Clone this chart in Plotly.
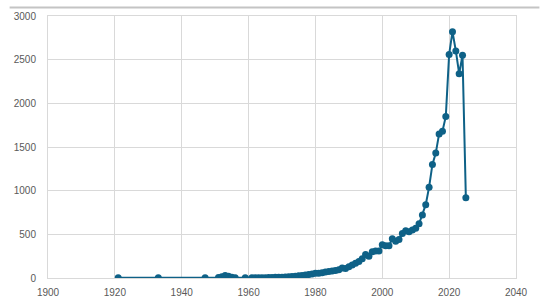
import plotly.graph_objects as go

years = [1921, 1933, 1947, 1951, 1952, 1953, 1954, 1955, 1956, 1959,
         1961, 1962, 1963, 1964, 1965, 1966, 1967, 1968, 1969, 1970,
         1971, 1972, 1973, 1974, 1975, 1976, 1977, 1978, 1979, 1980,
         1981, 1982, 1983, 1984, 1985, 1986, 1987, 1988, 1989, 1990,
         1991, 1992, 1993, 1994, 1995, 1996, 1997, 1998, 1999, 2000,
         2001, 2002, 2003, 2004, 2005, 2006, 2007, 2008, 2009, 2010,
         2011, 2012, 2013, 2014, 2015, 2016, 2017, 2018, 2019, 2020,
         2021, 2022, 2023, 2024, 2025]
counts = [2, 2, 2, 5, 15, 30, 20, 10, 4, 2,
          2, 2, 3, 3, 4, 5, 6, 8, 9, 10,
          12, 15, 18, 20, 25, 30, 35, 40, 45, 55,
          55, 60, 70, 75, 80, 85, 95, 115, 110, 130,
          150, 170, 190, 220, 270, 250, 300, 310, 310, 380,
          370, 370, 450, 420, 440, 510, 540, 530, 550, 570,
          620, 720, 840, 1040, 1300, 1430, 1650, 1680, 1850, 2560,
          2820, 2600, 2340, 2550, 920]

x_ticks = [1900, 1920, 1940, 1960, 1980, 2000, 2020, 2040]
y_ticks = [0, 500, 1000, 1500, 2000, 2500, 3000]

color = "#0e6187"
grid = "#d9d9d9"
font_color = "#595959"

fig = go.Figure(go.Scatter(
    x=years, y=counts, mode="lines+markers",
    line=dict(color=color, width=2),
    marker=dict(color=color, size=7),
    showlegend=False,
))

fig.update_layout(
    width=550, height=303,
    margin=dict(l=48, r=34, t=16, b=25, autoexpand=False),
    paper_bgcolor="white", plot_bgcolor="white",
    font=dict(family="Liberation Sans, Arial, sans-serif", size=10, color=font_color),
    shapes=[dict(type="line", xref="paper", yref="paper",
                 x0=-0.082, x1=1.05, y0=1.032, y1=1.032,
                 line=dict(color="#c4c4c4", width=2), layer="above")],
)
fig.update_xaxes(range=[1900, 2040], tickvals=x_ticks, showgrid=True,
                 gridcolor=grid, gridwidth=1, zeroline=False,
                 showline=True, mirror=True, linecolor=grid, linewidth=1,
                 ticks="", ticklabelstandoff=5, automargin=False)
fig.update_yaxes(range=[0, 3000], tickvals=y_ticks, showgrid=True,
                 gridcolor=grid, gridwidth=1, zeroline=False,
                 showline=True, mirror=True, linecolor=grid, linewidth=1,
                 ticks="", ticklabelstandoff=9, automargin=False)

fig.write_html("out.html", config={"displayModeBar": False},
               post_script="document.body.style.margin='0';document.body.style.overflow='hidden';")
